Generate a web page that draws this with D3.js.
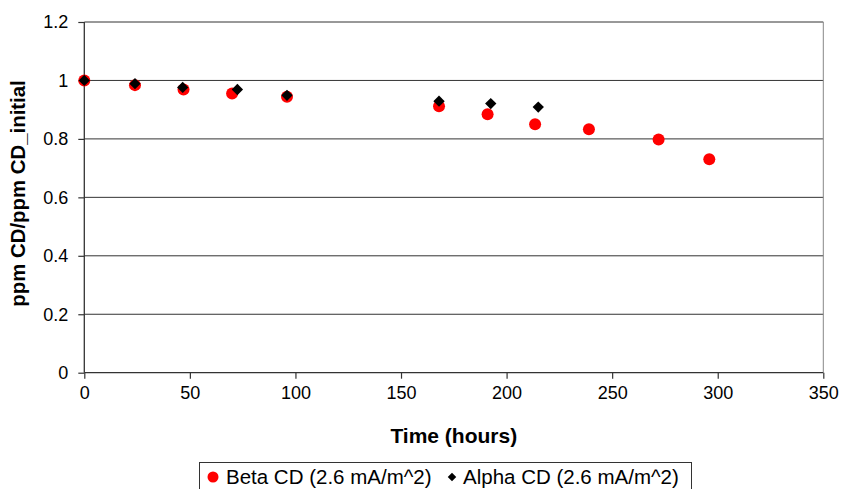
<!DOCTYPE html>
<html><head><meta charset="utf-8">
<script src="https://cdn.jsdelivr.net/npm/d3@7"></script>
<style>body{margin:0;background:#fff}svg{display:block}</style>
</head><body>
<svg id="c" width="842" height="489"></svg>
<script>
const betaTime = [0, 24, 47, 70, 96, 168, 191, 213.5, 239, 272, 296];
const betaValue = [1.0, 0.984, 0.969, 0.955, 0.944, 0.912, 0.884, 0.850, 0.833, 0.798, 0.730];
const alphaTime = [0, 24, 46.6, 72.5, 96, 168, 192.5, 215];
const alphaValue = [1.0, 0.989, 0.976, 0.969, 0.949, 0.929, 0.921, 0.909];
const xTicks = [0, 50, 100, 150, 200, 250, 300, 350];
const yTicks = [0, 0.2, 0.4, 0.6, 0.8, 1, 1.2];
const seriesNames = ["Beta CD (2.6 mA/m^2)", "Alpha CD (2.6 mA/m^2)"];

const svg = d3.select("#c");
const L = 84.3, R = 823.3, T = 22, B = 372.7;
const x = d3.scaleLinear().domain([0, 350]).range([L, R]);
const y = d3.scaleLinear().domain([0, 1.2]).range([B, T]);
const font = "Liberation Sans, Arial, sans-serif";

// gridlines
svg.append("g").selectAll("line").data(yTicks.filter(d => d > 0)).join("line")
  .attr("x1", L).attr("x2", R).attr("y1", d => y(d)).attr("y2", d => y(d))
  .attr("stroke", "#333").attr("stroke-width", 1);
// right border
svg.append("line").attr("x1", R).attr("x2", R).attr("y1", T).attr("y2", B)
  .attr("stroke", "#888").attr("stroke-width", 1);

// axes
const xAxis = svg.append("g").attr("transform", `translate(0,${B})`)
  .call(d3.axisBottom(x).tickValues(xTicks).tickSize(6).tickPadding(8).tickFormat(d3.format("d")));
const yAxis = svg.append("g").attr("transform", `translate(${L},0)`)
  .call(d3.axisLeft(y).tickValues(yTicks).tickSize(6).tickPadding(10).tickFormat(d => String(+d.toFixed(1))));
[xAxis, yAxis].forEach(a => {
  a.select(".domain").attr("stroke", "#333").attr("stroke-width", 1.3);
  a.selectAll(".tick line").attr("stroke", "#333").attr("stroke-width", 1.2);
  a.selectAll("text").attr("font-family", font).attr("font-size", 18).attr("fill", "#000");
});
xAxis.select(".domain").attr("d", `M${L},0H${R}`);
yAxis.select(".domain").attr("d", `M0,${B}V${T}`);

// titles
svg.append("text").attr("x", (L + R) / 2).attr("y", 443).attr("text-anchor", "middle")
  .attr("font-family", font).attr("font-weight", "bold").attr("font-size", 21).text("Time (hours)");
svg.append("text").attr("transform", `translate(25,193.5) rotate(-90)`).attr("text-anchor", "middle")
  .attr("font-family", font).attr("font-weight", "bold").attr("font-size", 20.4).text("ppm CD/ppm CD_initial");

// data
const beta = betaTime.map((t, i) => ({t, v: betaValue[i]}));
const alpha = alphaTime.map((t, i) => ({t, v: alphaValue[i]}));
svg.append("g").selectAll("circle").data(beta).join("circle")
  .attr("cx", d => x(d.t)).attr("cy", d => y(d.v)).attr("r", 6).attr("fill", "#ff0000");
svg.append("g").selectAll("path").data(alpha).join("path")
  .attr("transform", d => `translate(${x(d.t)},${y(d.v)}) rotate(45)`)
  .attr("d", d3.symbol().type(d3.symbolSquare).size(64)()).attr("fill", "#000");

// legend
const lg = svg.append("g");
lg.append("rect").attr("x", 199.5).attr("y", 462.5).attr("width", 492).attr("height", 28)
  .attr("fill", "#fff").attr("stroke", "#333").attr("stroke-width", 1);
lg.append("circle").attr("cx", 213).attr("cy", 477).attr("r", 5.5).attr("fill", "#ff0000");
lg.append("text").attr("x", 226).attr("y", 484).attr("font-family", font).attr("font-size", 20.5).text(seriesNames[0]);
lg.append("path").attr("transform", "translate(452,477) rotate(45)")
  .attr("d", d3.symbol().type(d3.symbolSquare).size(36)()).attr("fill", "#000");
lg.append("text").attr("x", 463).attr("y", 484).attr("font-family", font).attr("font-size", 20.5).text(seriesNames[1]);
</script>
</body></html>
